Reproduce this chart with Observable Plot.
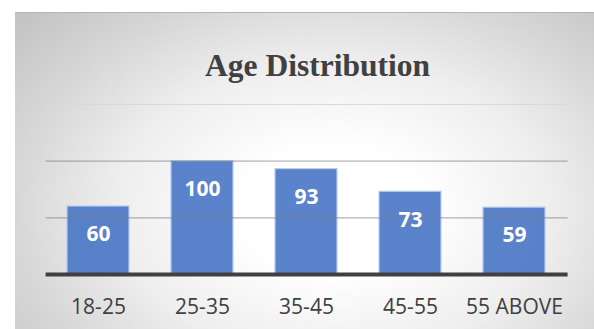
<!DOCTYPE html>
<html>
<head>
<meta charset="utf-8">
<script src="https://cdn.jsdelivr.net/npm/d3@7"></script>
<script src="https://cdn.jsdelivr.net/npm/@observablehq/plot@0.6"></script>
<style>
  html, body { margin: 0; padding: 0; background: #fff; }
  #panel {
    position: absolute; left: 15px; top: 12px; width: 579px; height: 317px;
    background: radial-gradient(ellipse 72% 90% at 55% 62%, #ffffff 0%, #ffffff 22%, #eeeeee 52%, #d6d6d6 78%, #c4c4c4 100%);
    border-top: 1px solid #b4b4b4;
    box-sizing: border-box;
  }
  #title {
    position: absolute; left: 0; top: 49.6px; width: 635px; text-align: center;
    font-family: "Liberation Serif", serif; font-weight: bold; font-size: 31.5px;
    line-height: 1; color: #404040; margin: 0;
  }
  #chart { position: absolute; left: 15px; top: 12px; }
</style>
</head>
<body>
<div id="panel"></div>
<div id="title">Age Distribution</div>
<div id="chart"></div>
<script>
const categories = ["18-25", "25-35", "35-45", "45-55", "55 ABOVE"];
const values = [60, 100, 93, 73, 59];
const gridTicks = [50, 100];
const faintTicks = [150];

const data = categories.map((c, i) => ({category: c, value: values[i]}));

const chart = Plot.plot({
  width: 579,
  height: 317,
  marginLeft: 30.6,
  marginRight: 26.4,
  marginTop: 92,
  marginBottom: 55,
  style: {background: "transparent", overflow: "visible"},
  x: {domain: categories, paddingInner: 0.4, paddingOuter: 0.2, label: null},
  y: {domain: [0, 150], axis: null},
  marks: [
    Plot.ruleY(faintTicks, {stroke: "#d9d9d9", strokeWidth: 1.2}),
    Plot.barY(data, {x: "category", y: "value", fill: "#4472c4", fillOpacity: 0.88, stroke: "#b7cbec", strokeWidth: 1.2}),
    Plot.ruleY(gridTicks, {stroke: "#7f7f7f", strokeWidth: 1.2, strokeOpacity: 0.6}),
    Plot.ruleY([0], {stroke: "#404040", strokeWidth: 4}),
    Plot.text(data, {x: "category", y: "value", text: d => String(d.value), dy: 28, fill: "white",
      fontSize: 21, fontWeight: "bold", fontFamily: "Open Sans"}),
    Plot.axisX({tickSize: 0, tickPadding: 24.4, fontSize: 21, fontFamily: "Open Sans", fill: "#404040", label: null})
  ]
});
document.getElementById("chart").appendChild(chart);
</script>
</body>
</html>
